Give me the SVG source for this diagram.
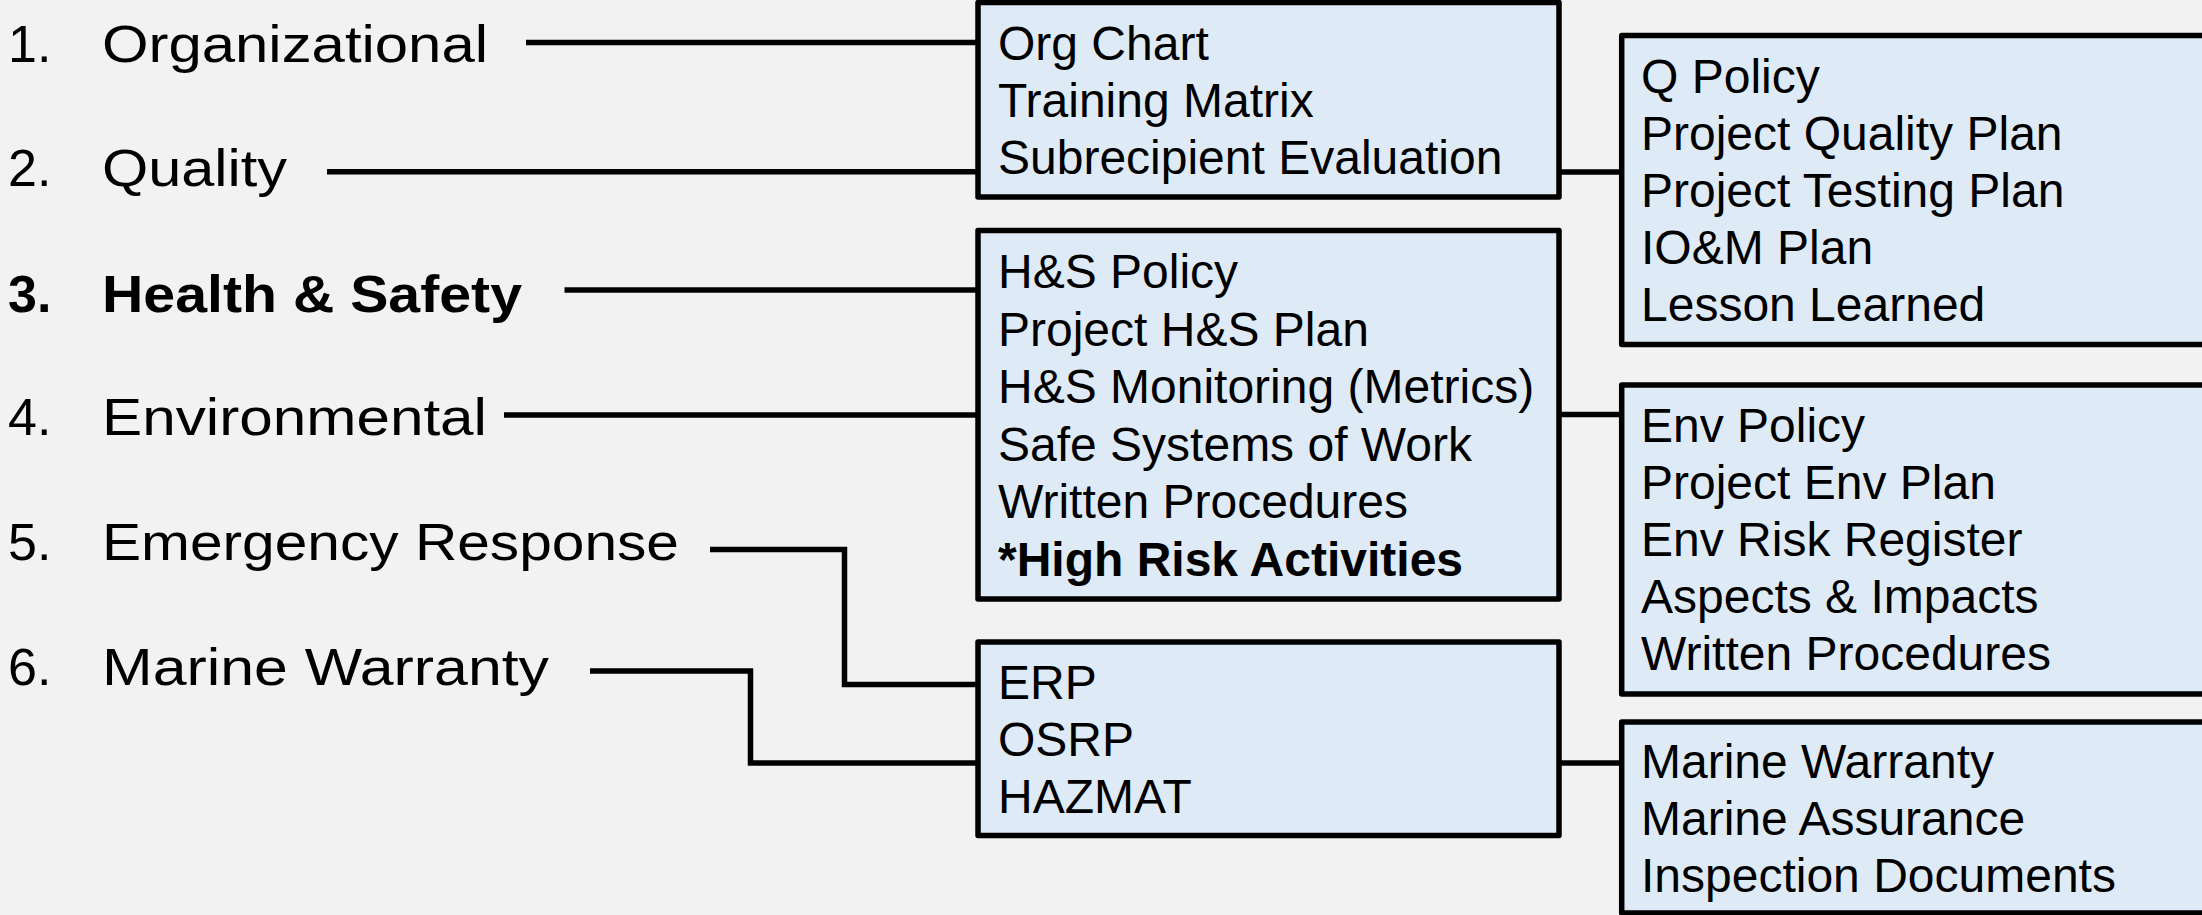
<svg xmlns="http://www.w3.org/2000/svg" width="2202" height="915" viewBox="0 0 2202 915">
<style>
.bg{fill:#F2F2F2}
.box{fill:#DEEAF6;stroke:#000;stroke-width:5.5;stroke-linejoin:round}
.conn{fill:none;stroke:#000;stroke-width:5.5;stroke-linecap:butt;stroke-linejoin:miter}
.lbl{font-family:"Liberation Sans",Arial,sans-serif;font-size:52px;fill:#000}
.b{font-weight:bold}
.t{font-family:"Liberation Sans",Arial,sans-serif;font-size:48px;fill:#000}
</style>
<rect class="bg" x="0" y="0" width="2202" height="915"/>
<g id="connectors">
<path class="conn" d="M526,42.5 H978"/>
<path class="conn" d="M327,171.7 H978"/>
<path class="conn" d="M564.5,290 H978"/>
<path class="conn" d="M504,415 H978"/>
<path class="conn" d="M710,549.5 H844.5 V684.5 H978"/>
<path class="conn" d="M590,671 H750.5 V763 H978"/>
<path class="conn" d="M1559,172 H1621.7"/>
<path class="conn" d="M1559,414.5 H1621.7"/>
<path class="conn" d="M1559,763 H1621.7"/>
</g>
<g id="cat1">
<text class="lbl" x="8" y="62">1.</text>
<text class="lbl" x="102" y="62" textLength="386" lengthAdjust="spacingAndGlyphs">Organizational</text>
</g>
<g id="cat2">
<text class="lbl" x="8" y="186">2.</text>
<text class="lbl" x="102" y="186" textLength="185" lengthAdjust="spacingAndGlyphs">Quality</text>
</g>
<g id="cat3">
<text class="lbl b" x="8" y="312">3.</text>
<text class="lbl b" x="102" y="312" textLength="420" lengthAdjust="spacingAndGlyphs">Health &amp; Safety</text>
</g>
<g id="cat4">
<text class="lbl" x="8" y="435">4.</text>
<text class="lbl" x="102" y="435" textLength="385" lengthAdjust="spacingAndGlyphs">Environmental</text>
</g>
<g id="cat5">
<text class="lbl" x="8" y="560">5.</text>
<text class="lbl" x="102" y="560" textLength="577" lengthAdjust="spacingAndGlyphs">Emergency Response</text>
</g>
<g id="cat6">
<text class="lbl" x="8" y="685">6.</text>
<text class="lbl" x="102" y="685" textLength="447" lengthAdjust="spacingAndGlyphs">Marine Warranty</text>
</g>
<g id="boxA">
<rect class="box" x="978" y="2.5" width="581" height="194.5"/>
<text class="t" x="998" y="60">Org Chart</text>
<text class="t" x="998" y="117">Training Matrix</text>
<text class="t" x="998" y="174">Subrecipient Evaluation</text>
</g>
<g id="boxB">
<rect class="box" x="978" y="230.5" width="581" height="368.5"/>
<text class="t" x="998" y="288">H&amp;S Policy</text>
<text class="t" x="998" y="345.5">Project H&amp;S Plan</text>
<text class="t" x="998" y="403">H&amp;S Monitoring (Metrics)</text>
<text class="t" x="998" y="460.5">Safe Systems of Work</text>
<text class="t" x="998" y="518">Written Procedures</text>
<text class="t b" x="998" y="575.5">*High Risk Activities</text>
</g>
<g id="boxC">
<rect class="box" x="978" y="642" width="581" height="193.5"/>
<text class="t" x="998" y="699">ERP</text>
<text class="t" x="998" y="756">OSRP</text>
<text class="t" x="998" y="813">HAZMAT</text>
</g>
<g id="boxD">
<rect class="box" x="1621.7" y="35.5" width="620" height="309"/>
<text class="t" x="1641" y="92.5">Q Policy</text>
<text class="t" x="1641" y="149.5">Project Quality Plan</text>
<text class="t" x="1641" y="206.5">Project Testing Plan</text>
<text class="t" x="1641" y="263.5">IO&amp;M Plan</text>
<text class="t" x="1641" y="320.5">Lesson Learned</text>
</g>
<g id="boxE">
<rect class="box" x="1621.7" y="385" width="620" height="309"/>
<text class="t" x="1641" y="441.5">Env Policy</text>
<text class="t" x="1641" y="498.5">Project Env Plan</text>
<text class="t" x="1641" y="555.5">Env Risk Register</text>
<text class="t" x="1641" y="612.5">Aspects &amp; Impacts</text>
<text class="t" x="1641" y="669.5">Written Procedures</text>
</g>
<g id="boxF">
<rect class="box" x="1621.7" y="722" width="620" height="191"/>
<text class="t" x="1641" y="778">Marine Warranty</text>
<text class="t" x="1641" y="835">Marine Assurance</text>
<text class="t" x="1641" y="892">Inspection Documents</text>
</g>
</svg>
